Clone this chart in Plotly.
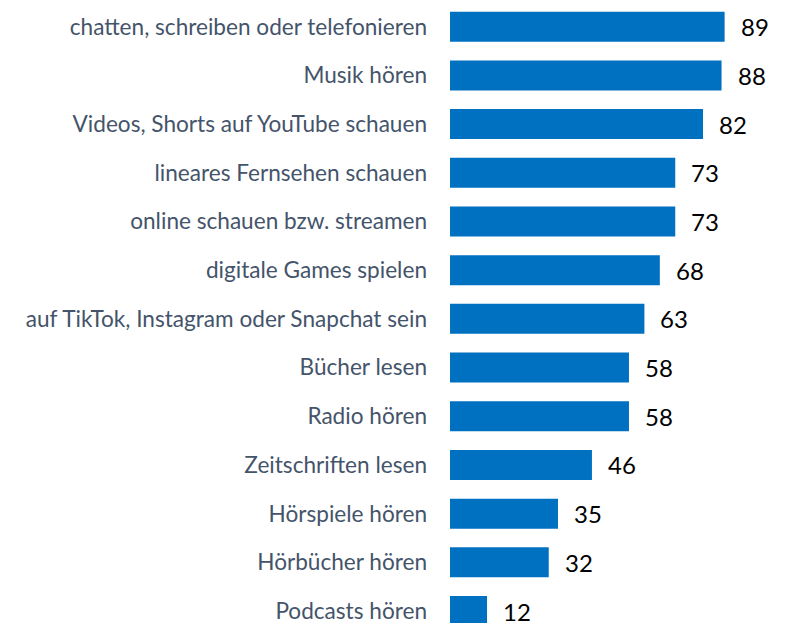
import plotly.graph_objects as go

categories = [
    "chatten, schreiben oder telefonieren",
    "Musik hören",
    "Videos, Shorts auf YouTube schauen",
    "lineares Fernsehen schauen",
    "online schauen bzw. streamen",
    "digitale Games spielen",
    "auf TikTok, Instagram oder Snapchat sein",
    "Bücher lesen",
    "Radio hören",
    "Zeitschriften lesen",
    "Hörspiele hören",
    "Hörbücher hören",
    "Podcasts hören",
]
values = [89, 88, 82, 73, 73, 68, 63, 58, 58, 46, 35, 32, 12]

fig = go.Figure()
fig.add_trace(go.Bar(
    x=values, y=categories, orientation="h",
    marker=dict(color="#0070C0", line=dict(width=0)),
    width=0.616,
    hoverinfo="skip",
))
for c, v in zip(categories, values):
    fig.add_annotation(x=v, y=c, text=str(v), showarrow=False,
                       xanchor="left", yanchor="middle", xshift=14, yshift=0,
                       font=dict(family="Lato", size=24, color="#000000"))

fig.update_layout(
    width=795, height=623,
    margin=dict(l=442, r=0, t=0, b=0),
    paper_bgcolor="white", plot_bgcolor="white",
    showlegend=False,
    xaxis=dict(range=[0, 114.4], visible=False, fixedrange=True),
    yaxis=dict(
        categoryorder="array", categoryarray=categories,
        range=[12.41, -0.384],
        showgrid=False, zeroline=False, showline=False, ticks="",
        ticklabelstandoff=22,
        tickfont=dict(family="Lato", size=22.6, color="#44546A"),
    ),
)
fig.write_html("out.html")
